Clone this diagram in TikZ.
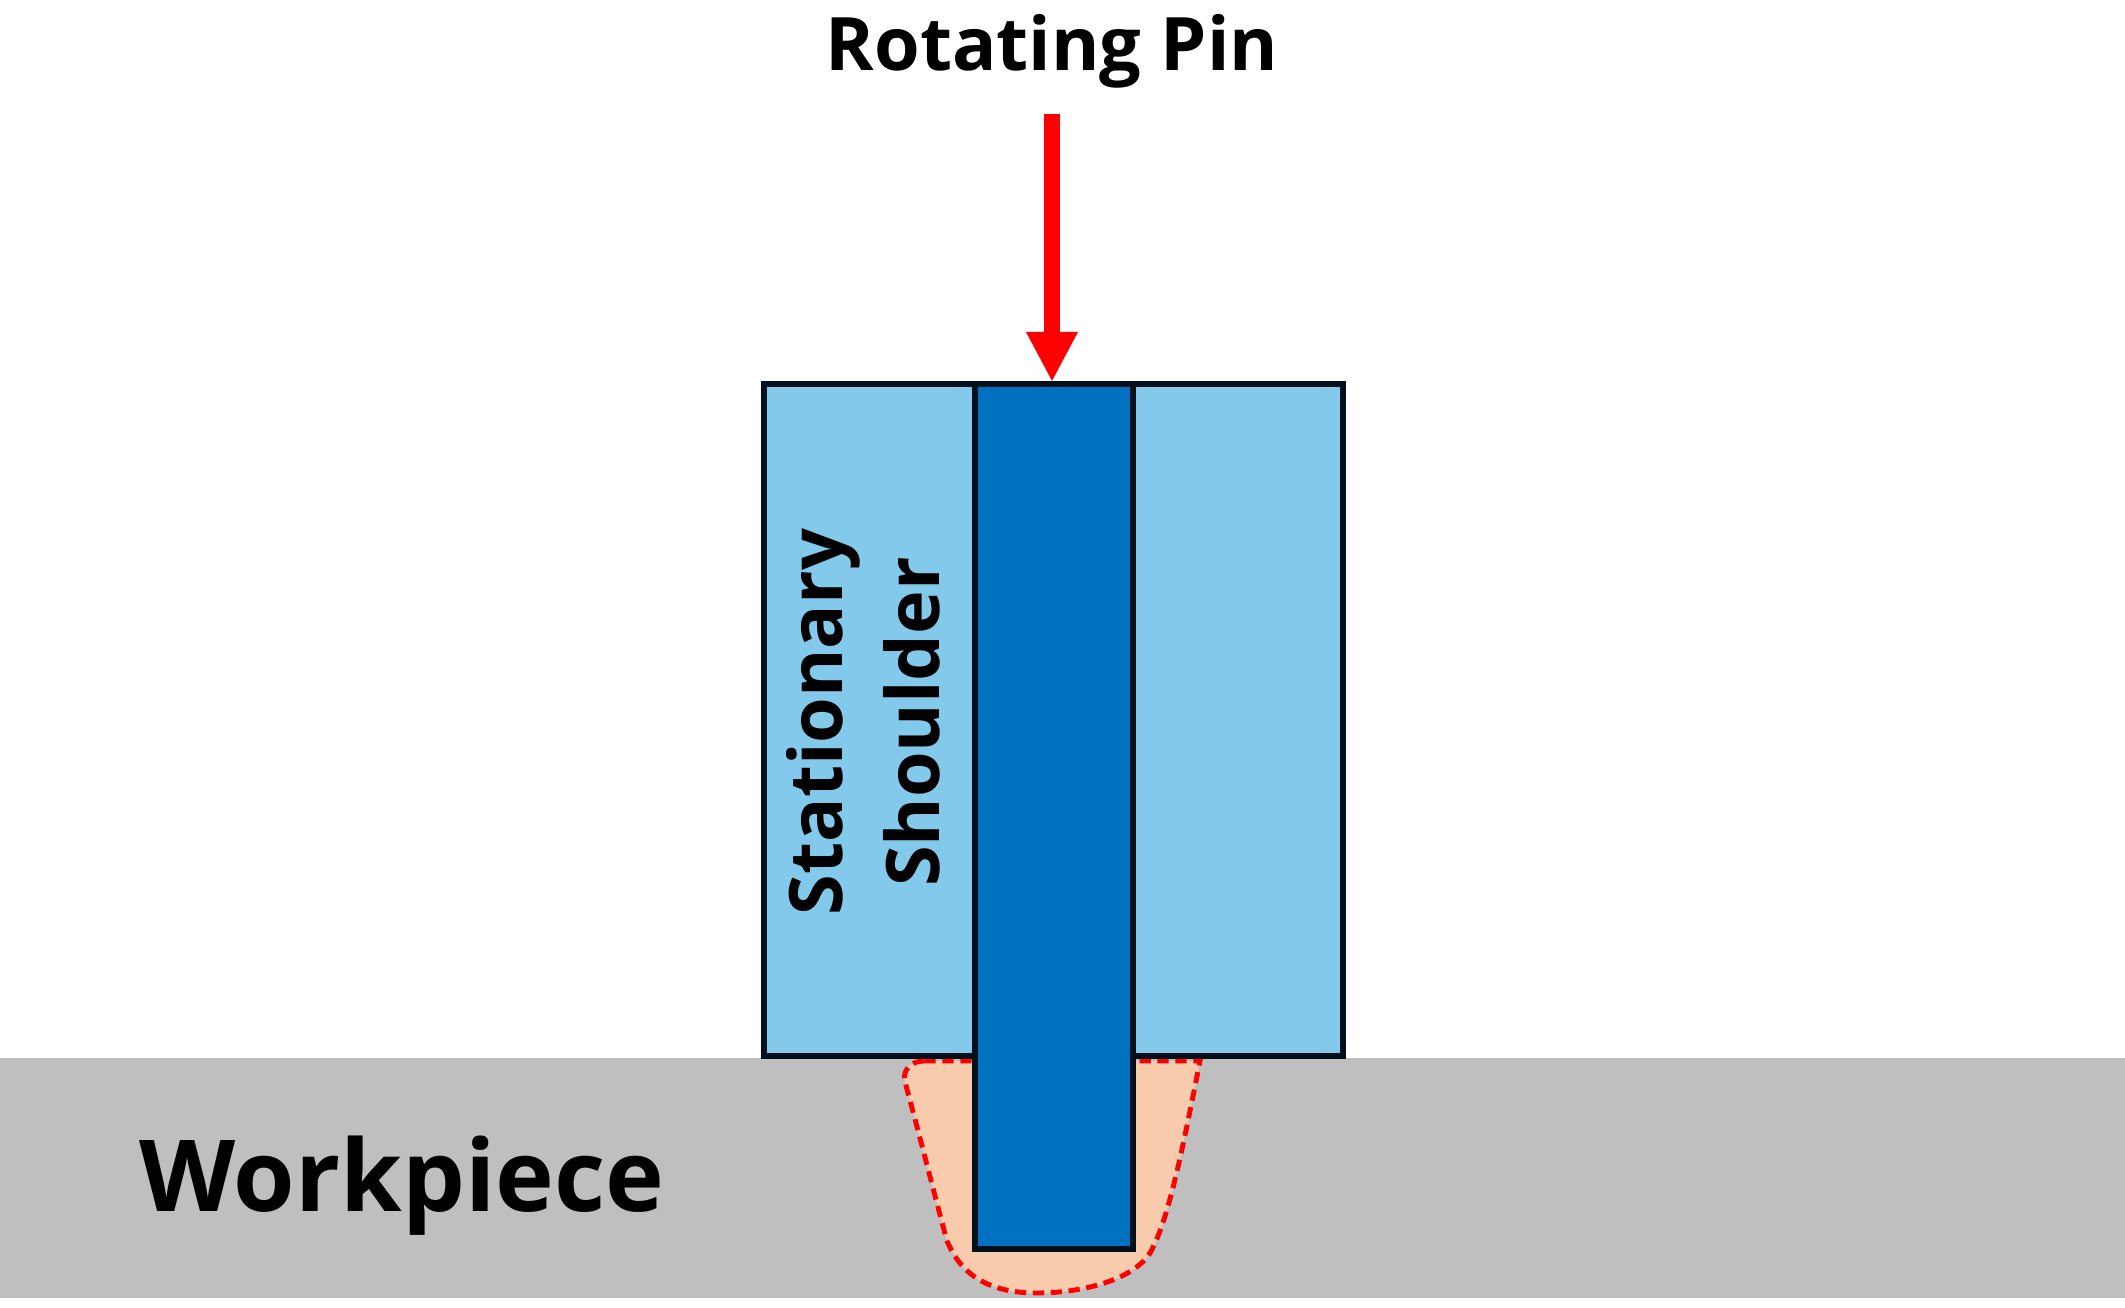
\documentclass[tikz,border=0pt]{standalone}
\usepackage{xcolor}
\usepackage{fontspec}
\usepackage{tikz}
\usetikzlibrary{arrows.meta}
\setmainfont{Open Sans}
\definecolor{shouldercol}{HTML}{83C9EC}
\definecolor{pincol}{HTML}{0070C0}
\definecolor{workcol}{HTML}{BFBFBF}
\definecolor{zonecol}{HTML}{F8CBAD}
\definecolor{edgecol}{HTML}{02101C}
\tikzset{
  solidpart/.style={draw=edgecol, line width=1.9pt},
  stirzone/.style={fill=zonecol, draw=red, line width=1.4pt, dash pattern=on 3.2pt off 1.9pt},
  boldlabel/.style={font=\bfseries\fontsize{#1}{#1}\selectfont, inner sep=0pt},
  boldlabel/.default=21pt
}

\begin{document}
\begin{tikzpicture}
\useasboundingbox (0,0) rectangle (21.25,13.07);
\fill[workcol] (0,0.09) rectangle (21.25,2.49);
\draw[stirzone] (9.24,2.46) .. controls (9.10,2.46) and (9.02,2.36) .. (9.05,2.25)
  .. controls (9.20,1.70) and (9.35,1.10) .. (9.47,0.66)
  .. controls (9.60,0.35) and (9.85,0.14) .. (10.37,0.14)
  .. controls (10.80,0.14) and (11.32,0.26) .. (11.50,0.54)
  .. controls (11.68,0.85) and (11.82,1.55) .. (12.00,2.46)
  -- cycle;
\draw[solidpart, fill=shouldercol] (7.64,9.23) rectangle (13.43,2.51);
\draw[solidpart, fill=pincol] (9.75,9.23) rectangle (11.33,0.58);
\node[boldlabel] (pinlabel) at (10.52,12.56) {Rotating Pin};
\node[boldlabel=28.3pt] (worklabel) at (4.02,1.21) {Workpiece};
\node[boldlabel=21pt, rotate=90, align=center] (shoulderlabel) at (8.63,5.85) {Stationary\\[6.5pt]Shoulder};
\coordinate (arrowstart) at (10.52,11.93);
\coordinate (arrowtip) at (10.52,9.25);
\draw[-{Triangle[length=0.5cm,width=0.48cm]}, red, line width=0.16cm] (arrowstart) -- (arrowtip);
\end{tikzpicture}
\end{document}
